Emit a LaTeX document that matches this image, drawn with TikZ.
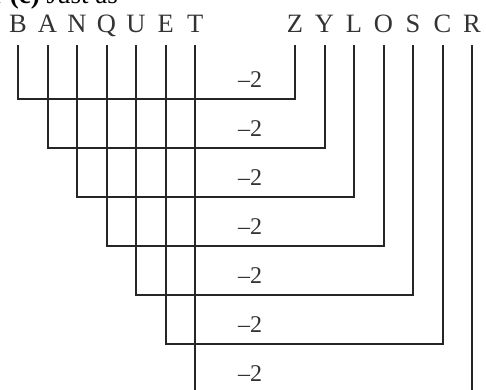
\documentclass[tikz,border=0pt]{standalone}
\usepackage{fontspec}
\setmainfont{Liberation Serif}
\begin{document}
\begin{tikzpicture}[x=1pt,y=-1pt,
  wire/.style={line width=2pt, draw=black!85, line join=miter},
  letter/.style={anchor=base, inner sep=0pt, font=\fontsize{26.5}{28}\selectfont, text=black!80},
  lab/.style={anchor=base, inner sep=0pt, font=\fontsize{24}{26}\selectfont, text=black!80},
  head/.style={anchor=base west, inner sep=0pt, font=\fontsize{27}{29}\selectfont}]
\useasboundingbox (0,0) rectangle (486,389);
\clip (0,0) rectangle (486,389);
% heading (cut off at the top)
\node[head] (head) at (-6,3) {r \textbf{(c)} Just as};
% letters
\foreach \n/\x in {B/18,A/47.5,N/77,Q/106.5,U/136,E/165.7,T/195.3,
                   Z/295,Y/324.5,L/354,O/383.5,S/413,C/442.5,R/472}{
  \node[letter] (\n) at (\x,32) {\n};
  \coordinate (t\n) at (\x,45);
}
% corners
\foreach \l/\r/\x/\xr/\y in {B/Z/18/295/99, A/Y/47.5/324.5/148, N/L/77/354/197,
                             Q/O/106.5/383.5/246, U/S/136/413/295, E/C/165.7/442.5/344}{
  \coordinate (c\l) at (\x,\y);
  \coordinate (c\r) at (\xr,\y);
}
\coordinate (cT) at (195.3,392);
\coordinate (cR) at (472,392);
% connectors
\draw[wire] (tB) -- (cB) -- (cZ) -- (tZ);
\draw[wire] (tA) -- (cA) -- (cY) -- (tY);
\draw[wire] (tN) -- (cN) -- (cL) -- (tL);
\draw[wire] (tQ) -- (cQ) -- (cO) -- (tO);
\draw[wire] (tU) -- (cU) -- (cS) -- (tS);
\draw[wire] (tE) -- (cE) -- (cC) -- (tC);
\draw[wire] (tT) -- (cT);
\draw[wire] (tR) -- (cR);
% labels
\foreach \i/\y in {1/87,2/136,3/185,4/234,5/283,6/332,7/381}{
  \node[lab] (m\i) at (250,\y) {–2};
}
\end{tikzpicture}
\end{document}
